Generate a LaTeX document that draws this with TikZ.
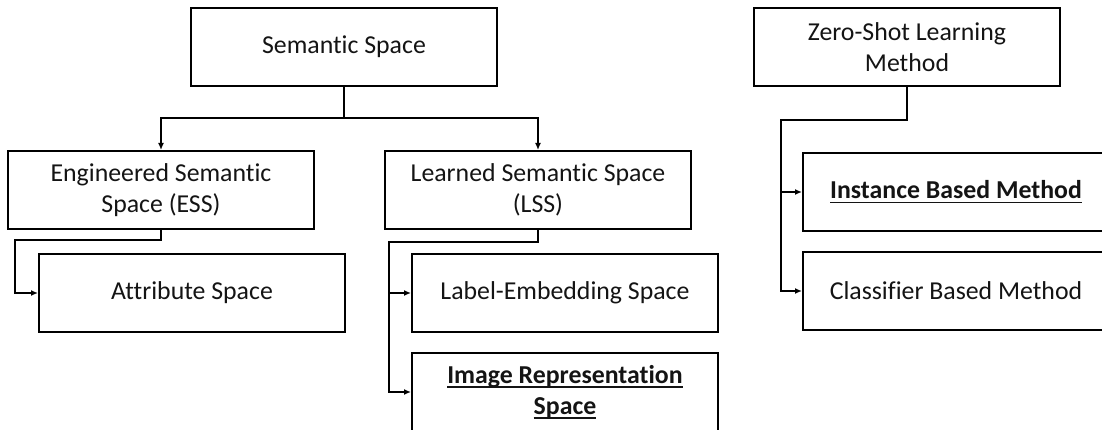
\documentclass[tikz,border=0pt]{standalone}
\usepackage{fontspec}
\setmainfont{Carlito}[Ligatures={NoCommon}]
\usetikzlibrary{arrows.meta}
% underline set close to the baseline, crossing descenders
\newcommand{\ulbar}[1]{\setbox0\hbox{#1}\rlap{\rule[-4.5pt]{\wd0}{1.8pt}}\box0}
\definecolor{ink}{HTML}{141414}
\tikzset{
  box/.style={draw=black, line width=2pt, minimum width=306pt, minimum height=78pt,
    inner sep=0pt, align=center, text=ink, font=\fontsize{25.8}{31.5}\selectfont},
  conn/.style={draw=black, line width=2pt, -{Latex[length=7pt,width=6pt]}},
  link/.style={draw=black, line width=2pt}
}
\begin{document}
\begin{tikzpicture}[x=1pt, y=-1pt]
\useasboundingbox (0,0) rectangle (1102,430);
\fill[white] (0,0) rectangle (1102,430);

% left tree: semantic spaces
\node[box] (sem)   at (344,47)   {Semantic Space};
\node[box] (ess)   at (161,190)  {Engineered Semantic\\Space (ESS)};
\node[box] (lss)   at (538,190)  {Learned Semantic Space\\(LSS)};
\node[box] (attr)  at (192,293)  {Attribute Space};
\node[box] (label) at (565,293)  {Label-Embedding Space};
\node[box, font=\fontsize{25.8}{31.5}\selectfont\bfseries] (img) at (565,392)
  {\ulbar{Image Representation}\\\ulbar{Space}};

% right tree: zero-shot learning methods
\node[box] (zsl)  at (907,47)  {Zero-Shot Learning\\Method};
\node[box, font=\fontsize{25.8}{31.5}\selectfont\bfseries] (inst) at (956,192)
  {\ulbar{Instance Based Method}};
\node[box] (clf)  at (956,291) {Classifier Based Method};

% junction points of the elbow connectors
\coordinate (semjoin) at (344,118);
\coordinate (essrail) at (15,240);
\coordinate (lssrail) at (389,242);
\coordinate (zslrail) at (781,120);

\draw[link] (sem.south) -- (semjoin);
\draw[conn] (semjoin) -| (ess.north);
\draw[conn] (semjoin) -| (lss.north);

\draw[conn] (ess.south) |- (essrail) |- (attr.west);

\draw[conn] (lss.south) |- (lssrail) |- (label.west);
\draw[conn] (lssrail) |- (img.west);

\draw[conn] (zsl.south) |- (zslrail) |- (inst.west);
\draw[conn] (zslrail) |- (clf.west);
\end{tikzpicture}
\end{document}
